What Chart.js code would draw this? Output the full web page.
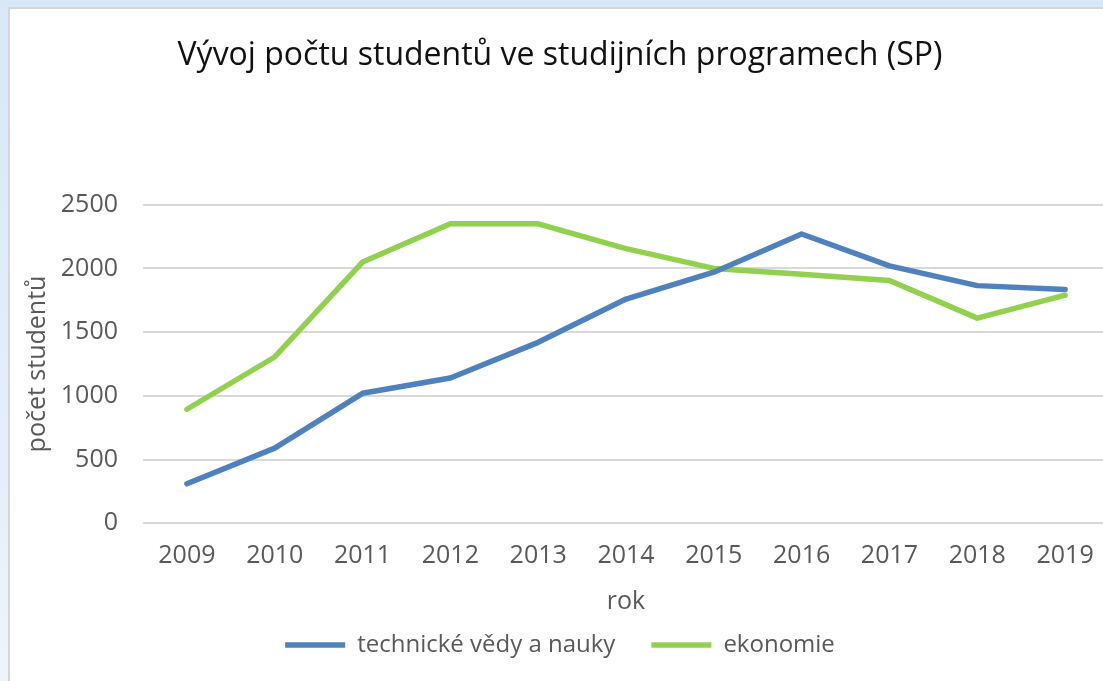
<!DOCTYPE html>
<html>
<head>
<meta charset="utf-8">
<script src="https://cdn.jsdelivr.net/npm/chart.js@4.4.1/dist/chart.umd.min.js"></script>
<style>
  html, body { margin: 0; padding: 0; width: 1103px; height: 681px; overflow: hidden; }
  body { background: linear-gradient(180deg, #d8e8f8 0%, #e3eef9 60%, #eef4fa 100%); position: relative; }
  #frame { position: absolute; left: 8px; top: 7px; width: 1200px; height: 800px; background: #ffffff;
           border-left: 2px solid #d6d6d6; border-top: 2px solid #d6d6d6; }
  #c { position: absolute; left: 0; top: 0; }
</style>
</head>
<body>
<div id="frame"></div>
<canvas id="c" width="1120" height="681"></canvas>
<script>
const years = ['2009', '2010', '2011', '2012', '2013', '2014', '2015', '2016', '2017', '2018', '2019'];
const technicke = [310, 590, 1020, 1140, 1420, 1760, 1970, 2270, 2020, 1865, 1835];
const ekonomie = [895, 1305, 2050, 2350, 2350, 2155, 2000, 1955, 1905, 1610, 1790];
const seriesNames = ['technické vědy a nauky', 'ekonomie'];
const titleText = 'Vývoj počtu studentů ve studijních programech (SP)';
const xTitle = 'rok';
const yTitle = 'počet studentů';

Chart.defaults.font.family = "'Open Sans', 'Noto Sans', sans-serif";
Chart.defaults.color = '#595959';

new Chart(document.getElementById('c'), {
  type: 'line',
  data: {
    labels: years,
    datasets: [
      { label: seriesNames[0], data: technicke, borderColor: '#4f81bd', backgroundColor: '#4f81bd',
        borderWidth: 5.5, pointRadius: 0, tension: 0, borderCapStyle: 'round', borderJoinStyle: 'round', yAxisID: 'y' },
      { label: seriesNames[1], data: ekonomie, borderColor: '#92d050', backgroundColor: '#92d050',
        borderWidth: 5.5, pointRadius: 0, tension: 0, borderCapStyle: 'round', borderJoinStyle: 'round', yAxisID: 'y' }
    ]
  },
  options: {
    responsive: false,
    animation: false,
    devicePixelRatio: 1,
    layout: { padding: { left: 0, right: 0, top: 0, bottom: 14 } },
    plugins: {
      tooltip: { enabled: false },
      title: {
        display: true, text: titleText, color: '#111111',
        font: { size: 32, weight: 'normal' },
        padding: { top: 36.3, bottom: 130 }
      },
      legend: {
        display: true, position: 'bottom',
        labels: {
          usePointStyle: true, pointStyle: 'line', pointStyleWidth: 60,
          padding: 36, color: '#595959', font: { size: 24 }
        }
      }
    },
    scales: {
      x: {
        type: 'category', offset: true,
        grid: { display: false, drawTicks: false },
        border: { display: false },
        ticks: { padding: 18, color: '#595959', font: { size: 25 }, maxRotation: 0, autoSkip: false },
        title: { display: true, text: xTitle, color: '#595959', font: { size: 25 }, padding: { top: 0, bottom: -20 } },
        afterFit: s => { s.height = 73.7; }
      },
      y: {
        type: 'linear', position: 'left', min: 0, max: 2500,
        grid: { color: '#d9d9d9', lineWidth: 2, drawTicks: false },
        border: { display: false },
        ticks: { stepSize: 500, padding: 25, color: '#595959', font: { size: 25 },
                 callback: v => String(v) },
        title: { display: true, text: yTitle, color: '#595959', font: { size: 25 }, padding: { top: 23, bottom: 0 } },
        afterFit: s => { s.width = 143; }
      },
      yR: {
        type: 'linear', position: 'right', display: true,
        grid: { display: false, drawTicks: false },
        border: { display: false },
        ticks: { display: false },
        afterFit: s => { s.width = 11; }
      }
    }
  }
});
</script>
</body>
</html>
